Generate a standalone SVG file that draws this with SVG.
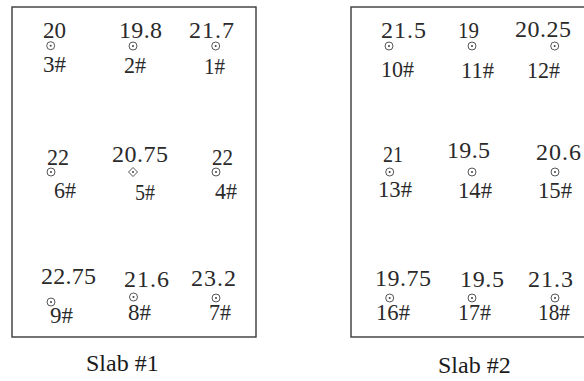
<svg xmlns="http://www.w3.org/2000/svg" width="584" height="381" viewBox="0 0 584 381">
<defs>
<style>
.box{fill:none;stroke:#3a3a3a;stroke-width:1.4}
.v{font-family:"Liberation Serif",serif;font-size:24px;fill:#2a2a2a}
.l{font-family:"Liberation Serif",serif;font-size:23px;fill:#2a2a2a}
.cap{font-family:"Liberation Serif",serif;font-size:24px;fill:#1a1a1a}
.m{fill:none;stroke:#444;stroke-width:0.9}
.d{fill:#444}
</style>
<g id="pt">
<circle class="m" cx="0" cy="0" r="4"/>
<circle class="d" cx="0" cy="0" r="1"/>
</g>
<g id="dm">
<path class="m" d="M0,-4.5 L4.5,0 L0,4.5 L-4.5,0 Z"/>
<circle class="d" cx="0" cy="0" r="1"/>
</g>
</defs>
<rect width="584" height="381" fill="#ffffff"/>
<g id="slab1">
<rect class="box" x="12" y="7" width="244" height="330"/>
<g id="p3"><text class="v" x="43" y="38" textLength="23" lengthAdjust="spacingAndGlyphs">20</text><use href="#pt" x="50.7" y="45.7"/><text class="l" x="43" y="72" textLength="23" lengthAdjust="spacingAndGlyphs">3#</text></g>
<g id="p2"><text class="v" x="119" y="38" textLength="43" lengthAdjust="spacing">19.8</text><use href="#pt" x="133" y="46"/><text class="l" x="124" y="73" textLength="22" lengthAdjust="spacingAndGlyphs">2#</text></g>
<g id="p1"><text class="v" x="189" y="38" textLength="45" lengthAdjust="spacing">21.7</text><use href="#pt" x="215.7" y="46"/><text class="l" x="204" y="74" textLength="21" lengthAdjust="spacingAndGlyphs">1#</text></g>
<g id="p6"><text class="v" x="47" y="165" textLength="22" lengthAdjust="spacingAndGlyphs">22</text><use href="#pt" x="51" y="172"/><text class="l" x="54" y="198" textLength="22" lengthAdjust="spacingAndGlyphs">6#</text></g>
<g id="p5"><text class="v" x="112" y="162" textLength="56" lengthAdjust="spacing">20.75</text><use href="#dm" x="133" y="172"/><text class="l" x="135" y="200" textLength="20" lengthAdjust="spacingAndGlyphs">5#</text></g>
<g id="p4"><text class="v" x="212" y="165" textLength="21" lengthAdjust="spacingAndGlyphs">22</text><use href="#pt" x="216" y="172"/><text class="l" x="215" y="199" textLength="22" lengthAdjust="spacingAndGlyphs">4#</text></g>
<g id="p9"><text class="v" x="41" y="284" textLength="55" lengthAdjust="spacing">22.75</text><use href="#pt" x="51" y="302"/><text class="l" x="50" y="323" textLength="23" lengthAdjust="spacingAndGlyphs">9#</text></g>
<g id="p8"><text class="v" x="124" y="287" textLength="45" lengthAdjust="spacing">21.6</text><use href="#pt" x="133.5" y="297"/><text class="l" x="128" y="320" textLength="23" lengthAdjust="spacingAndGlyphs">8#</text></g>
<g id="p7"><text class="v" x="191" y="286" textLength="45" lengthAdjust="spacing">23.2</text><use href="#pt" x="216" y="298"/><text class="l" x="209" y="320" textLength="22" lengthAdjust="spacingAndGlyphs">7#</text></g>
<text class="cap" x="86" y="371">Slab #1</text>
</g>
<g id="slab2">
<rect class="box" x="351" y="7" width="245" height="330"/>
<g id="p10"><text class="v" x="381" y="38" textLength="45" lengthAdjust="spacing">21.5</text><use href="#pt" x="389" y="46"/><text class="l" x="381" y="77" textLength="33" lengthAdjust="spacingAndGlyphs">10#</text></g>
<g id="p11"><text class="v" x="458" y="38" textLength="21" lengthAdjust="spacingAndGlyphs">19</text><use href="#pt" x="472" y="46"/><text class="l" x="461" y="78" textLength="33" lengthAdjust="spacingAndGlyphs">11#</text></g>
<g id="p12"><text class="v" x="515" y="37" textLength="56" lengthAdjust="spacing">20.25</text><use href="#pt" x="554.7" y="46"/><text class="l" x="527" y="78" textLength="33" lengthAdjust="spacingAndGlyphs">12#</text></g>
<g id="p13"><text class="v" x="383" y="162" textLength="20" lengthAdjust="spacingAndGlyphs">21</text><use href="#pt" x="389.7" y="172"/><text class="l" x="378" y="197" textLength="34" lengthAdjust="spacingAndGlyphs">13#</text></g>
<g id="p14"><text class="v" x="447" y="158" textLength="43" lengthAdjust="spacing">19.5</text><use href="#pt" x="472" y="172"/><text class="l" x="458" y="198" textLength="34" lengthAdjust="spacingAndGlyphs">14#</text></g>
<g id="p15"><text class="v" x="536" y="160" textLength="45" lengthAdjust="spacing">20.6</text><use href="#pt" x="555" y="172"/><text class="l" x="538" y="198" textLength="34" lengthAdjust="spacingAndGlyphs">15#</text></g>
<g id="p16"><text class="v" x="375" y="286" textLength="56" lengthAdjust="spacing">19.75</text><use href="#pt" x="389.7" y="298"/><text class="l" x="376" y="320" textLength="34" lengthAdjust="spacingAndGlyphs">16#</text></g>
<g id="p17"><text class="v" x="460" y="287" textLength="44" lengthAdjust="spacing">19.5</text><use href="#pt" x="472" y="298"/><text class="l" x="458" y="320" textLength="33" lengthAdjust="spacingAndGlyphs">17#</text></g>
<g id="p18"><text class="v" x="528" y="287" textLength="45" lengthAdjust="spacing">21.3</text><use href="#pt" x="555" y="298"/><text class="l" x="538" y="320" textLength="32" lengthAdjust="spacingAndGlyphs">18#</text></g>
<text class="cap" x="438" y="373">Slab #2</text>
</g>
<g id="connectors"/>
</svg>
